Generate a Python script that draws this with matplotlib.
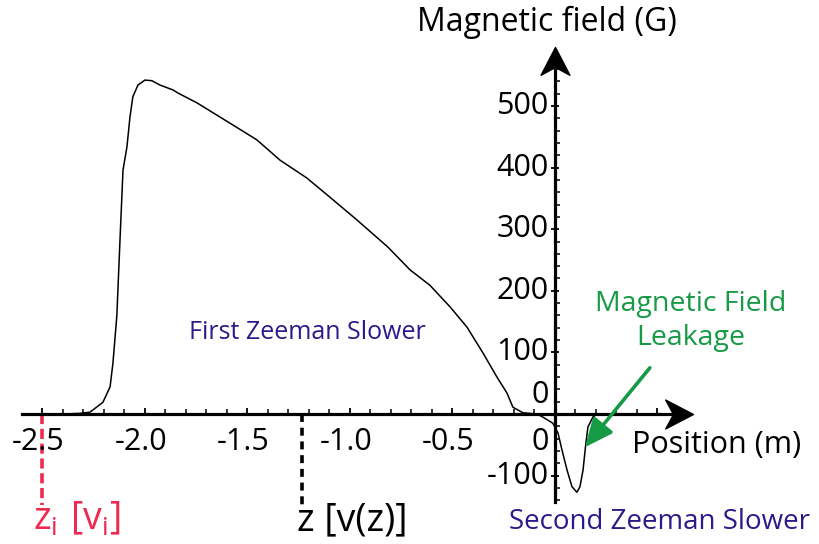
import matplotlib
matplotlib.use("Agg")
import numpy as np
import matplotlib.pyplot as plt
from matplotlib.path import Path
from matplotlib.ticker import FixedLocator, NullFormatter

plt.rcParams['font.family'] = ['Open Sans', 'DejaVu Sans']
plt.rcParams['mathtext.fontset'] = 'custom'
plt.rcParams['mathtext.rm'] = 'Open Sans'
plt.rcParams['mathtext.it'] = 'Open Sans'

# ---- data ----
position_m = [-2.5, -2.4, -2.32, -2.268, -2.205, -2.17, -2.156, -2.137, -2.122, -2.107,
              -2.088, -2.073, -2.059, -2.034, -2.0, -1.966, -1.927, -1.863, -1.839, -1.746,
              -1.585, -1.454, -1.341, -1.21, -1.098, -0.966, -0.815, -0.707, -0.61, -0.512,
              -0.429, -0.351, -0.283, -0.234, -0.205, -0.156, -0.088, -0.059, -0.01, 0.015,
              0.034, 0.059, 0.083, 0.107, 0.122, 0.137, 0.151, 0.161, 0.185, 0.205]
field_G = [0, 0, 1, 3, 19, 44, 83, 160, 280, 396,
           433, 482, 515, 534, 542, 541, 534, 526, 521, 505,
           472, 445, 412, 383, 352, 315, 271, 234, 209, 174,
           141, 99, 60, 34, 11, 2, 0, -5, -15, -31,
           -58, -91, -118, -127, -118, -91, -47, -21, -5, 0]

xtick_values = [-2.5, -2.0, -1.5, -1.0, -0.5, 0]
xtick_labels = ['-2.5', '-2.0', '-1.5', '-1.0', '-0.5', '0']
ytick_values = [500, 400, 300, 200, 100, 0, -100]
ytick_labels = ['500', '400', '300', '200', '100', '0', '-100']

z_initial = -2.5
z_current = -1.234

INDIGO = '#2c1a8c'
GREEN = '#169a45'
RED = '#ee2a50'

fig = plt.figure(figsize=(8.19, 5.44), dpi=100)
ax = fig.add_axes([0, 0, 1, 1])
ax.set_xlim(-2.707, 1.288)
ax.set_ylim(-211, 672)

# axes through origin
for s in ['top', 'right']:
    ax.spines[s].set_visible(False)
ax.spines['bottom'].set_position(('data', 0))
ax.spines['left'].set_position(('data', 0))
ax.spines['bottom'].set_bounds(-2.6, 0.62)
ax.spines['left'].set_bounds(-143, 560)
for s in ['bottom', 'left']:
    ax.spines[s].set_linewidth(2.3)
    ax.spines[s].set_zorder(2)

ax.xaxis.set_major_locator(FixedLocator(np.round(np.arange(-2.5, 0.51, 0.5), 2)))
ax.xaxis.set_minor_locator(FixedLocator(np.round(np.arange(-2.5, 0.51, 0.1), 2)))
ax.yaxis.set_major_locator(FixedLocator(np.arange(-100, 501, 100)))
ax.yaxis.set_minor_locator(FixedLocator(np.arange(-140, 561, 20)))
ax.xaxis.set_major_formatter(NullFormatter())
ax.yaxis.set_major_formatter(NullFormatter())
ax.tick_params(axis='x', which='major', direction='in', length=4.5, width=1.3)
ax.tick_params(axis='x', which='minor', direction='in', length=3.5, width=1.1)
ax.tick_params(axis='y', which='major', direction='inout', length=6, width=1.3)
ax.tick_params(axis='y', which='minor', direction='in', length=3.5, width=1.1)

# arrow heads
right_head = Path([(0, 0), (-1, 0.52), (-0.72, 0), (-1, -0.52), (0, 0)],
                  [Path.MOVETO, Path.LINETO, Path.LINETO, Path.LINETO, Path.CLOSEPOLY])
up_head = Path([(0, 0), (0.52, -1), (0, -0.72), (-0.52, -1), (0, 0)],
               [Path.MOVETO, Path.LINETO, Path.LINETO, Path.LINETO, Path.CLOSEPOLY])
ax.plot([0.673], [0], marker=right_head, markersize=40, color='black', clip_on=False, zorder=3)
ax.plot([0], [596], marker=up_head, markersize=40, color='black', clip_on=False, zorder=3)

# curve
ax.plot(position_m, field_G, color='black', lw=1.1, zorder=4)

# tick labels
fs = 22
for v, lab in zip(xtick_values, xtick_labels):
    if v == 0:
        ax.text(-0.03, -45, lab, ha='right', va='center', fontsize=fs)
    else:
        ax.text(v - 0.02, -45, lab, ha='center', va='center', fontsize=fs)
for v, lab in zip(ytick_values, ytick_labels):
    y = 31 if v == 0 else v
    ax.text(-0.03, y, lab, ha='right', va='center', fontsize=fs)

ax.text(-0.039, 636, 'Magnetic field (G)', ha='center', va='center', fontsize=23)
ax.text(0.376, -50, 'Position (m)', ha='left', va='center', fontsize=fs)

ax.text(-1.21, 133, 'First Zeeman Slower', ha='center', va='center', fontsize=18, color=INDIGO)
ax.text(0.512, -175, 'Second Zeeman Slower', ha='center', va='center', fontsize=20, color=INDIGO)

ax.text(0.66, 151, 'Magnetic Field\nLeakage', ha='center', va='center', fontsize=20.5,
        color=GREEN, linespacing=1.3)
ax.annotate('', xy=(0.146, -54), xytext=(0.463, 75),
            arrowprops=dict(arrowstyle='-|>,head_length=0.9,head_width=0.4',
                            lw=2.6, color=GREEN, mutation_scale=19, shrinkA=0, shrinkB=0),
            zorder=5)

# dotted markers for z positions
ax.plot([z_initial, z_initial], [0, -148], color=RED, lw=2.6, ls=(0, (2.8, 1.3)), zorder=1)
ax.plot([z_current, z_current], [0, -148], color='black', lw=2.6, ls=(0, (2.2, 1.6)), zorder=1)
ax.text(-2.546, -172, r'$\mathregular{z_i\ [v_i]}$', ha='left', va='center', fontsize=27, color=RED)
ax.text(-1.259, -172, 'z [v(z)]', ha='left', va='center', fontsize=27, color='black')

fig.savefig('out.png', dpi=100)
